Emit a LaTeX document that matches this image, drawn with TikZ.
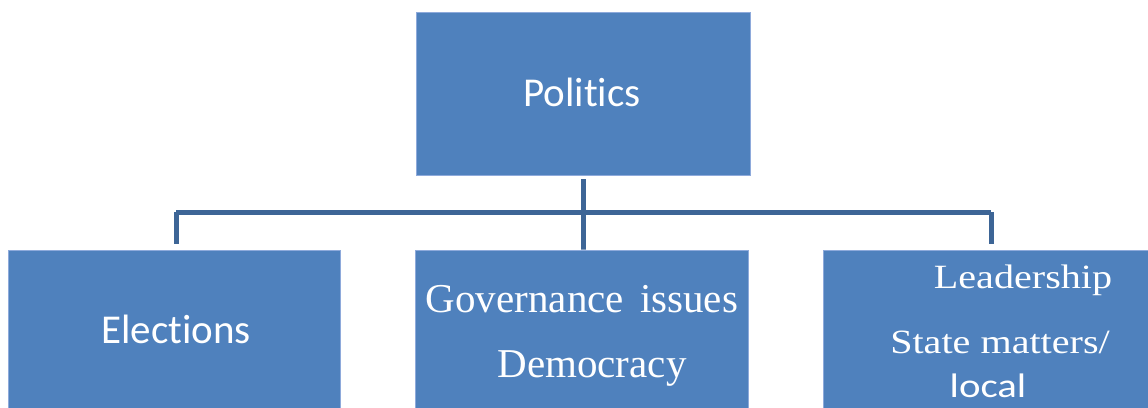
\documentclass[tikz,border=0pt]{standalone}
\usepackage{fontspec}
\usepackage{graphicx}
\setmainfont{Liberation Serif}
\newfontfamily\calib[Ligatures={NoCommon,NoRare,NoDiscretionary}]{Carlito}
\definecolor{boxblue}{HTML}{4F81BD}
\definecolor{boxedge}{HTML}{8EAADB}
\definecolor{linkblue}{HTML}{3D6596}
\begin{document}
\begin{tikzpicture}[x=1pt,y=-1pt,
  box/.style={rectangle,fill=boxblue,draw=boxedge,line width=0.8pt,inner sep=0pt},
  link/.style={draw=linkblue,line width=5pt},
  sanslbl/.style={anchor=base,text=white,inner sep=0pt,font=\calib\fontsize{41}{41}\selectfont},
  seriflbl/.style={anchor=base,text=white,inner sep=0pt,font=\fontsize{41}{41}\selectfont},
  widelbl/.style={anchor=base,text=white,inner sep=0pt,font=\fontsize{34}{34}\selectfont}]
\useasboundingbox (0,0) rectangle (1148,407);
\clip (0,0) rectangle (1148,407);
% boxes
\node[box,minimum width=334pt,minimum height=163pt] (pol) at (583,93.5) {};
\node[box,minimum width=332pt,minimum height=180pt] (ele) at (174,340) {};
\node[box,minimum width=333pt,minimum height=180pt] (gov) at (581.5,340) {};
\node[box,minimum width=340pt,minimum height=180pt] (lead) at (993,340) {};
% labels
\node[sanslbl] (tpol) at (582,106) {Politics};
\node[sanslbl] (tele) at (176,343) {Elections};
\node[seriflbl] (tgov1) at (582,312) {Governance\hspace{6pt} issues};
\node[seriflbl] (tgov2) at (592,377) {Democracy};
\node[widelbl] (tlead1) at (1023,288) {\scalebox{1.18}[1]{Leadership}};
\node[widelbl] (tlead2) at (1000,353) {\scalebox{1.18}[1]{State matters/}};
\node[sanslbl,font=\calib\fontsize{34}{34}\selectfont] (tlead3) at (988,397) {\scalebox{1.2}[1]{local}};
% connectors
\coordinate (hub) at (583,212);
\coordinate (lt) at (176,212);
\coordinate (rt) at (991,212);
\draw[link] (hub |- pol.south) ++(0,4) -- (hub |- gov.north) -- ++(0,-5);
\draw[link] (lt) -- (rt);
\draw[link] (lt) -- (lt |- 0,244);
\draw[link] (rt) -- (rt |- 0,244);
\end{tikzpicture}
\end{document}
